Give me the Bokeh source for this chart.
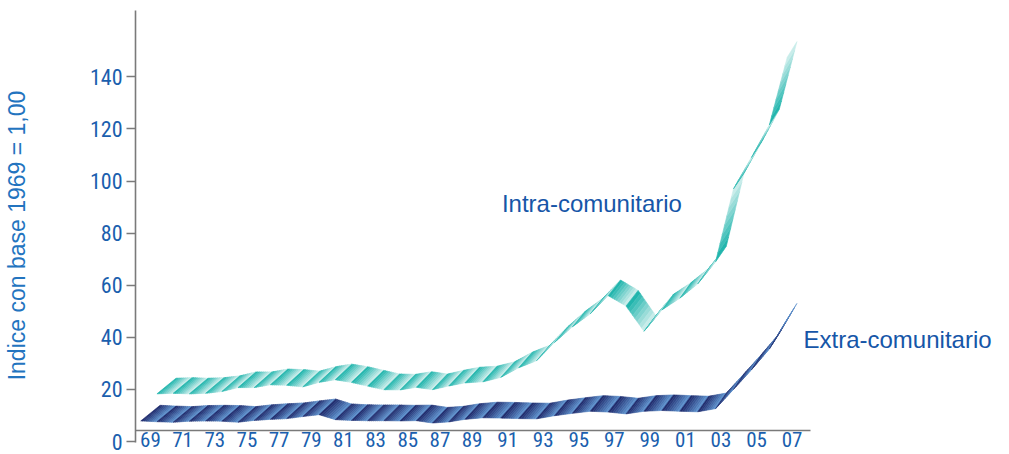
from bokeh.plotting import figure
from bokeh.models import Range1d, FixedTicker, Label
from bokeh.embed import file_html
from bokeh.resources import INLINE

# ---------------- data ----------------
extra_years = list(range(1969, 2008))
extra_values = [10.9, 10.6, 10.4, 10.8, 10.9, 10.8, 10.4, 11.1, 11.5, 11.8,
                12.6, 13.3, 11.4, 11.1, 11.0, 11.0, 10.9, 11.0, 10.1, 10.5,
                11.5, 12.1, 12.0, 11.8, 11.7, 12.9, 13.8, 14.6, 14.3, 13.6,
                14.6, 14.9, 14.6, 14.4, 15.6, 23.0, 30.5, 38.5, 50.0]

intra_years = list(range(1970, 2008))
intra_values = [21.3, 21.5, 21.3, 21.5, 22.2, 23.7, 23.7, 24.8, 24.6, 24.0,
                25.7, 26.7, 25.7, 24.3, 22.9, 22.8, 23.8, 22.9, 24.3, 25.5,
                25.9, 27.6, 31.3, 34.0, 41.0, 47.0, 52.0, 59.0, 55.0, 45.3,
                53.5, 58.0, 63.5, 72.0, 100.0, 112.0, 124.5, 150.5]

tick_years = list(range(1969, 2008, 2))
tick_labels = ["%02d" % (y % 100) for y in tick_years]
y_ticks = [0, 20, 40, 60, 80, 100, 120, 140]

series_names = ["Intra-comunitario", "Extra-comunitario"]


# the original axis is drawn with wider year spacing from 1989 on
def axis_pos(year):
    if year <= 1989:
        return float(year - 1969)
    return 20.0 + (year - 1989) * 17.9 / 16.2


def mix(c1, c2, t):
    a = [int(c1[i:i + 2], 16) for i in (1, 3, 5)]
    b = [int(c2[i:i + 2], 16) for i in (1, 3, 5)]
    return "#%02x%02x%02x" % tuple(int(round(a[k] + (b[k] - a[k]) * t)) for k in range(3))


DEPTH_V = 6.0  # ribbon depth in value units


def depth_u(u):
    return 1.2 - 0.015 * u


def ribbon(years, vals, dark, light, k=8):
    us = [axis_pos(y) for y in years]
    xs, ys, cols = [], [], []
    for i in range(len(us) - 1):
        for j in range(k):
            t0, t1 = j / k, (j + 1) / k
            fr, bk = [], []
            for t in (t0, t1):
                u = us[i] + (us[i + 1] - us[i]) * t
                v = vals[i] + (vals[i + 1] - vals[i]) * t
                d = depth_u(u)
                fr.append((u - d / 2, v - DEPTH_V / 2))
                bk.append((u + d / 2, v + DEPTH_V / 2))
            poly = [fr[0], fr[1], bk[1], bk[0]]
            xs.append([pt[0] for pt in poly])
            ys.append([pt[1] for pt in poly])
            cols.append(mix(dark, light, (j + 0.5) / k))
    return xs, ys, cols


X_START, X_END = -0.926, 52.41
X_AXIS_END = 41.03
Y_START, Y_END = -7.29, 165.45
X_AXIS_AT = 4.22

TICK_FONT = "Roboto Condensed"
TEXT_BLUE = "#1b5fae"

p = figure(width=993, height=500,
           x_range=Range1d(X_START, X_END), y_range=Range1d(Y_START, Y_END),
           output_backend="svg", toolbar_location=None,
           min_border_left=129, min_border_right=0,
           min_border_top=10, min_border_bottom=40)
p.outline_line_color = None
p.grid.grid_line_color = None
p.background_fill_color = "white"

# ribbons
xs, ys, cols = ribbon(extra_years, extra_values, "#1b2466", "#6096d2")
p.patches(xs, ys, fill_color=cols, line_color=cols, line_width=0.6)
xs, ys, cols = ribbon(intra_years, intra_values, "#16b1a9", "#d4f0ee")
p.patches(xs, ys, fill_color=cols, line_color=cols, line_width=0.6)

# x axis, drawn at the bottom of the plotted area
tick_pos = [axis_pos(y) for y in tick_years]
xa = p.xaxis[0]
xa.fixed_location = X_AXIS_AT
xa.bounds = (X_START - 0.75, X_AXIS_END)
xa.ticker = FixedTicker(ticks=tick_pos)
xa.major_label_overrides = {pos: lab for pos, lab in zip(tick_pos, tick_labels)}
xa.major_tick_out = 0
xa.major_tick_in = 0
xa.minor_tick_out = 0
xa.minor_tick_in = 0
xa.axis_line_color = "#7a7a7a"
xa.axis_line_width = 1.6
xa.major_label_standoff = 1
xa.major_label_text_font = TICK_FONT
xa.major_label_text_font_size = "21px"
xa.major_label_text_color = TEXT_BLUE

# y axis
ya = p.yaxis[0]
ya.bounds = (-0.5, Y_END)
ya.ticker = FixedTicker(ticks=y_ticks)
ya.major_tick_out = 9
ya.major_tick_in = 0
ya.minor_tick_out = 0
ya.minor_tick_in = 0
ya.major_tick_line_color = "#7a7a7a"
ya.major_tick_line_width = 1.4
ya.axis_line_color = "#7a7a7a"
ya.axis_line_width = 1.6
ya.major_label_standoff = 4
ya.major_label_text_font = TICK_FONT
ya.major_label_text_font_size = "22px"
ya.major_label_text_color = TEXT_BLUE
ya.axis_label = "Indice con base 1969 = 1,00"
ya.axis_label_text_font = "Liberation Sans"
ya.axis_label_text_font_style = "normal"
ya.axis_label_text_font_size = "23px"
ya.axis_label_text_color = "#2374bf"
ya.axis_label_standoff = 57

# series labels
p.add_layout(Label(x=21.85, y=91.5, text=series_names[0], text_align="left",
                   text_baseline="alphabetic", text_font="Liberation Sans",
                   text_font_size="24px", text_color="#1656a8"))
p.add_layout(Label(x=40.6, y=39.2, text=series_names[1], text_align="left",
                   text_baseline="alphabetic", text_font="Liberation Sans",
                   text_font_size="24px", text_color="#1656a8"))

open("out.html", "w").write(file_html(p, INLINE))
